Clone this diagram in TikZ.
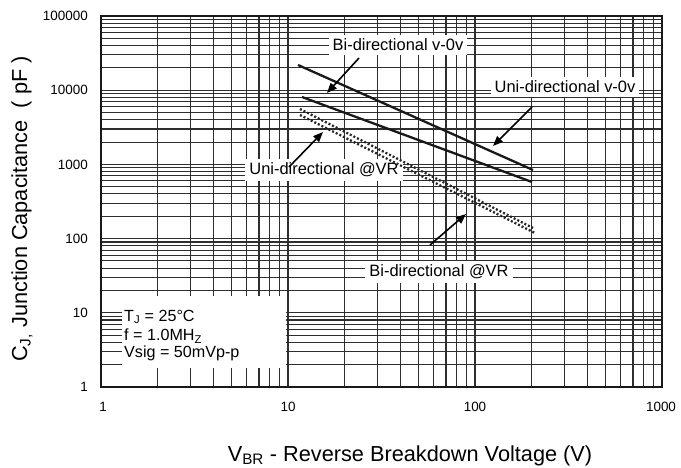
\documentclass[tikz,border=0pt]{standalone}
\usepackage{fontspec}
\setmainfont{Liberation Sans}
\usetikzlibrary{arrows.meta}
\begin{document}
\begin{tikzpicture}[x=1bp,y=-1bp,
  gridline/.style={line width=1.1bp,draw=black!82},
  frameline/.style={line width=2.6bp,draw=black!90},
  curve/.style={line width=2.3bp,draw=black!90},
  dotcurve/.style={line width=2.3bp,draw=black!85,dash pattern=on 2bp off 2bp},
  pointer/.style={line width=1.6bp,draw=black,-{Triangle[length=10bp,width=8bp]}},
  lbl/.style={fill=white,inner xsep=4bp,inner ysep=4bp,font=\fontsize{16.5}{19}\selectfont},
  tick/.style={font=\fontsize{13.5}{15}\selectfont},
  ttl/.style={font=\fontsize{21.8}{25}\selectfont},
  info/.style={anchor=west,inner sep=0pt,font=\fontsize{16.2}{19}\selectfont}]
\useasboundingbox (0,0) rectangle (681,468);
\fill[white] (0,0) rectangle (681,468);
% grid
\foreach \d in {0,1,2}{\foreach \k in {1,...,9}{
  \pgfmathsetmacro\xx{101+187*(\d+log10(\k))}
  \draw[gridline] (\xx,16) -- (\xx,387);}}
\foreach \d in {0,...,4}{\foreach \k in {1,...,9}{
  \pgfmathsetmacro\yy{387-74.2*(\d+log10(\k))}
  \draw[gridline] (101,\yy) -- (662,\yy);}}
% info box
\fill[white] (122,296) rectangle (286,368);
\node[info] (tj) at (124,317) {T\textsubscript{J} = 25°C};
\node[info] (fr) at (124,336) {f = 1.0MH\textsubscript{Z}};
\node[info] (vs) at (124,353) {Vsig = 50mVp-p};
% labels
\node[lbl] (lbv) at (398,45) {Bi-directional v-0v};
\node[lbl] (luv) at (565,87) {Uni-directional v-0v};
\node[lbl] (luvr) at (324,170) {Uni-directional @VR};
\node[lbl] (lbvr) at (439,272) {Bi-directional @VR};
% curves
\coordinate (b0a) at (298,65);  \coordinate (b0b) at (533,170);
\coordinate (u0a) at (302,97);  \coordinate (u0b) at (532,182);
\coordinate (ura) at (300,109); \coordinate (urb) at (533,228);
\coordinate (bra) at (300,115); \coordinate (brb) at (535,233);
\draw[curve] (b0a) -- (b0b);
\draw[curve] (u0a) -- (u0b);
\draw[dotcurve] (ura) -- (urb);
\draw[dotcurve] (bra) -- (brb);
% pointers
\coordinate (p1s) at (359,58);  \coordinate (p1e) at (327,93);
\coordinate (p2s) at (532,107); \coordinate (p2e) at (493,146);
\coordinate (p3s) at (289,167); \coordinate (p3e) at (323,132);
\coordinate (p4s) at (430,245); \coordinate (p4e) at (466,214);
\draw[pointer] (p1s) -- (p1e);
\draw[pointer] (p2s) -- (p2e);
\draw[pointer] (p3s) -- (p3e);
\draw[pointer] (p4s) -- (p4e);
% frame
\draw[frameline] (101,16) rectangle (662,387);
% tick labels
\foreach \v/\yy in {1/387,10/312.8,100/238.6,1000/164.4,10000/90.2,100000/16}{
  \node[tick,anchor=east,inner sep=0pt] at (88,\yy) {\v};}
\foreach \v/\xx in {1/103,10/288,100/475,1000/661}{
  \node[tick,inner sep=0pt] at (\xx,407) {\v};}
% titles
\node[ttl,anchor=base,inner sep=0pt] (xt) at (410,461) {V\textsubscript{BR} - Reverse Breakdown Voltage (V)};
\node[ttl,rotate=90,inner sep=0pt] (yt) at (22,209) {C\textsubscript{J,} Junction Capacitance \ ( pF )};
\end{tikzpicture}
\end{document}
